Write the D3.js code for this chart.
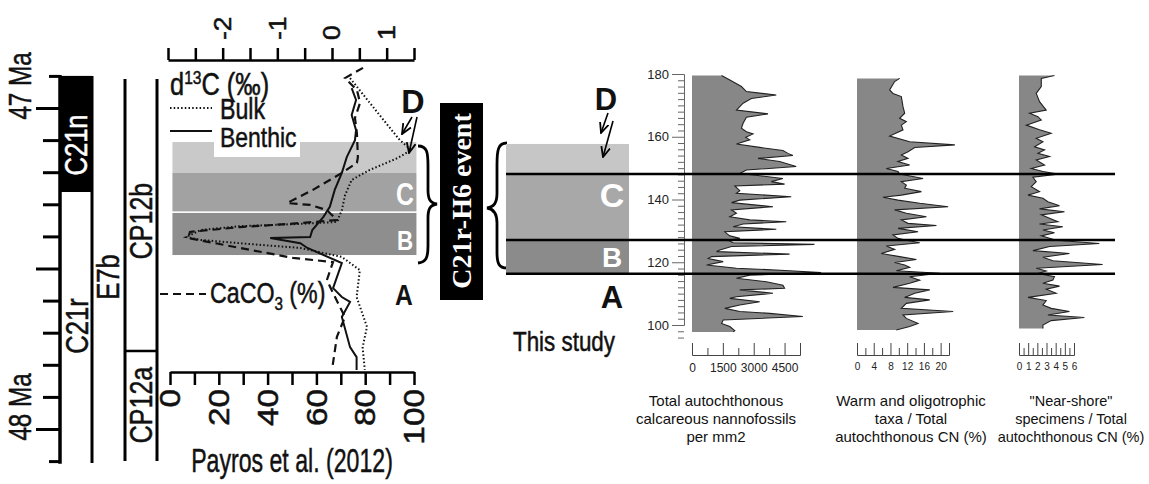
<!DOCTYPE html>
<html>
<head>
<meta charset="utf-8">
<script src="https://cdn.jsdelivr.net/npm/d3@7"></script>
<style>
  html, body { margin: 0; padding: 0; background: #fff; }
  svg { display: block; }
</style>
</head>
<body>
<svg id="chart" width="1149" height="484"></svg>
<script>
// ---------- data ----------
// polarity chrons and zones (age, Ma)
const chronNames = ["C21n", "C21r"];
const chronTops = [46.9, 47.262];
const chronBases = [47.262, 48.106];
const chronNormal = [true, false];
const nannoZones = ["CP12b", "CP12a"];
const nannoBounds = [46.91, 47.757, 48.1];
const ageTicks = d3.range(469, 482).map(d => d / 10);

// Payros et al. (2012) curves, age in Ma
const bulkAge = [46.907,47.022,47.100,47.131,47.156,47.193,47.224,47.271,47.318,47.355,47.361,47.368,47.380,47.402,47.411,47.424,47.436,47.464,47.505,47.589,47.682,47.745,47.816];
const bulkD13C = [0.33,0.87,1.24,1.45,1.20,0.69,0.36,0.24,0.18,0.09,-0.58,-1.67,-2.40,-2.67,-2.40,-1.49,-0.58,0.18,0.51,0.45,0.64,0.56,0.60];
const benthicAge = [46.938,46.975,47.022,47.069,47.100,47.153,47.202,47.255,47.308,47.340,47.380,47.402,47.405,47.421,47.436,47.483,47.561,47.589,47.604,47.651,47.745,47.776,47.816];
const benthicD13C = [0.36,0.44,0.36,0.44,0.42,0.27,0.18,0.05,-0.04,-0.16,-0.36,-0.40,-1.13,-0.58,-0.45,0.18,0.02,0.18,0.33,0.18,0.33,0.45,0.45];
const caco3Age = [46.875,46.907,46.944,46.984,47.031,47.078,47.153,47.171,47.202,47.255,47.296,47.302,47.318,47.349,47.361,47.371,47.386,47.405,47.436,47.467,47.480,47.536,47.576,47.651,47.713,47.816];
const caco3Pct = [79.1,71.7,76.6,77.9,75.8,76.6,77.0,76.6,70.5,58.6,48.0,57.4,64.3,68.4,49.2,28.7,8.2,7.4,28.7,50.4,66.8,64.3,66.8,71.7,68.4,66.4];
const payrosBandTop = [47.106, 47.202, 47.327];
const payrosBandBase = [47.202, 47.322, 47.458];

// This study: event intervals (section height)
const studyBandTop = [157.7, 148.1, 127.1];
const studyBandBase = [148.1, 127.1, 116.3];
const studyLines = [148.1, 127.1, 116.3];

// Total autochthonous calcareous nannofossils per mm2
const depth1 = [179.5,178.1,176.0,174.4,173.3,172.2,170.7,168.5,167.3,166.2,164.3,162.7,161.6,160.9,159.8,159.0,157.7,156.6,155.6,154.7,154.0,153.1,152.1,150.5,149.4,148.3,146.7,145.7,144.9,144.3,142.8,142.0,140.9,139.8,139.0,137.7,136.7,135.6,134.5,133.5,132.9,132.2,131.3,130.5,129.7,129.2,128.4,127.6,127.0,126.2,125.7,125.0,123.9,123.4,122.6,121.8,121.2,120.2,119.1,118.1,117.3,116.7,115.9,114.9,113.8,112.7,111.7,111.2,110.1,109.0,108.5,107.4,106.4,105.3,104.3,103.7,102.7,101.6,100.5,99.5,98.2,97.8];
const total1 = [1436,1839,2403,2645,4097,2887,2484,2161,3694,2645,2484,2403,2645,2968,2613,2807,2161,3291,4420,4662,4904,3210,4258,5065,2645,2323,4420,3855,4500,2081,2323,2161,4823,2323,1919,3936,1919,2161,1839,2807,4581,2484,2000,4097,1597,1678,1839,2323,1758,2000,5952,1919,1355,1194,4742,952,790,1516,710,2161,4742,6275,2807,2161,3613,4420,4500,2323,3936,2161,1839,3291,2323,1597,2323,3774,5387,1516,1436,1839,2081,2000];

// Warm and oligotrophic taxa (%)
const depth2 = [178.6,177.6,174.9,173.8,172.8,169.6,167.5,165.9,164.8,163.7,162.2,160.2,158.4,157.4,156.6,155.2,154.2,153.1,152.1,151.0,149.9,148.9,148.1,146.7,145.7,144.6,143.6,142.5,141.4,140.7,139.8,138.8,137.7,136.7,135.6,134.5,133.5,132.4,131.7,130.8,129.7,128.7,127.6,127.0,126.2,125.2,124.1,122.8,121.8,120.9,119.9,119.1,118.4,117.3,116.5,115.4,114.3,113.3,112.0,111.2,110.1,108.8,108.0,106.9,105.3,104.3,103.2,102.1,100.5,99.5,98.4];
const warm2 = [10.2,9.0,7.8,8.6,10.6,11.0,11.4,10.2,11.8,10.6,11.0,7.8,12.6,23.4,13.8,12.2,10.6,12.2,9.8,12.6,7.0,9.8,10.2,15.8,10.6,11.8,11.4,15.4,10.6,6.2,9.8,15.0,21.8,9.0,11.8,16.6,10.6,12.2,19.0,9.8,14.6,8.6,9.8,11.8,15.0,7.0,9.0,5.8,10.2,14.2,9.0,11.4,12.6,9.4,19.8,12.6,15.0,12.6,8.6,17.4,13.8,11.4,17.4,11.8,10.6,23.0,11.0,11.8,14.6,12.6,9.4];

// "Near-shore" specimens (%)
const depth3 = [179.5,178.6,176.0,173.8,171.2,168.5,167.5,166.4,165.3,163.7,162.2,161.1,159.5,158.4,156.8,155.8,154.7,153.7,152.6,151.0,149.9,148.9,148.1,147.1,145.7,144.1,142.5,141.4,140.4,139.3,138.0,137.0,136.1,135.1,134.0,132.9,132.2,131.3,130.3,129.4,128.4,127.0,126.0,125.0,123.7,122.8,121.6,120.5,119.3,118.1,117.2,116.4,115.4,114.3,113.3,112.4,111.4,110.1,108.8,107.8,106.4,105.3,104.3,103.2,102.4,101.4,100.0,98.9];
const near3 = [3.87,2.43,2.43,1.88,2.24,2.97,1.16,2.06,2.43,0.80,2.24,3.51,1.88,2.61,1.70,2.79,2.06,3.33,1.88,2.79,1.34,2.61,4.24,1.52,1.88,1.34,2.24,0.98,2.61,3.15,4.42,2.24,4.96,2.43,3.33,4.24,2.24,4.78,2.61,3.87,2.43,4.05,8.76,3.33,1.52,5.50,2.61,3.69,9.12,1.88,2.97,2.06,3.87,3.69,2.61,4.42,2.97,4.05,0.98,2.97,2.61,3.51,5.50,3.15,7.13,3.51,2.61,2.61];

const panelTitles = [
  ["Total autochthonous", "calcareous nannofossils", "per mm2"],
  ["Warm and oligotrophic", "taxa / Total", "autochthonous CN (%)"],
  ["\"Near-shore\"", "specimens / Total", "autochthonous CN (%)"]
];

const SANS = "'Liberation Sans', Arial, Helvetica, sans-serif";
const SERIF = "'Liberation Serif', 'Times New Roman', serif";

document.addEventListener('DOMContentLoaded', init);

function init() {
  const svg = d3.select("#chart");

  // arrow head
  svg.append("defs").append("marker")
    .attr("id", "arr").attr("viewBox", "0 0 10 10")
    .attr("refX", 9).attr("refY", 5)
    .attr("markerWidth", 7).attr("markerHeight", 7)
    .attr("orient", "auto")
    .append("path").attr("d", "M0,1 L9,5 L0,9")
    .attr("fill", "none").attr("stroke", "#000").attr("stroke-width", 1.6);

  // scales
  const yAge = d3.scaleLinear().domain([47, 48]).range([108, 429]);
  const xD13C = d3.scaleLinear().domain([-3, 1.5]).range([168, 414]);
  const xCaco3 = d3.scaleLinear().domain([0, 100]).range([170, 414]);
  const yDepth = d3.scaleLinear().domain([100, 180]).range([325, 74]);
  const xTotal = d3.scaleLinear().domain([0, 5250]).range([692, 800]);
  const xWarm = d3.scaleLinear().domain([0, 22]).range([857, 949]);
  const xNear = d3.scaleLinear().domain([0, 6]).range([1019, 1074]);

  // ---------- time scale column ----------
  const gT = svg.append("g");
  chronNames.forEach((name, i) => {
    gT.append("rect")
      .attr("x", 60).attr("width", 32)
      .attr("y", yAge(chronTops[i]))
      .attr("height", yAge(chronBases[i]) - yAge(chronTops[i]))
      .attr("fill", chronNormal[i] ? "#000" : "#fff");
  });
  gT.append("line").attr("x1", 92).attr("x2", 92)
    .attr("y1", yAge(46.9)).attr("y2", yAge(48.106))
    .attr("stroke", "#000").attr("stroke-width", 3);

  const ageAxis = gT.append("g").attr("transform", "translate(60,0)")
    .call(d3.axisLeft(yAge).tickValues(ageTicks).tickFormat("").tickSizeOuter(0).tickSize(17));
  ageAxis.select(".domain").remove();
  ageAxis.selectAll(".tick line")
    .attr("x2", d => {
      const r = Math.round(d * 10);
      if (r === 470 || r === 475 || r === 480) return -24;
      if (r === 469 || r === 481) return -11;
      return -17;
    })
    .attr("stroke", "#000").attr("stroke-width", 3);
  gT.append("line").attr("x1", 60).attr("x2", 60)
    .attr("y1", yAge(46.897)).attr("y2", yAge(48.108))
    .attr("stroke", "#000").attr("stroke-width", 3.5);

  // zone columns
  [125, 157].forEach(x => {
    gT.append("line").attr("x1", x).attr("x2", x)
      .attr("y1", yAge(nannoBounds[0])).attr("y2", yAge(nannoBounds[2]))
      .attr("stroke", "#000").attr("stroke-width", 3);
  });
  gT.append("line").attr("x1", 125).attr("x2", 157)
    .attr("y1", yAge(nannoBounds[1])).attr("y2", yAge(nannoBounds[1]))
    .attr("stroke", "#000").attr("stroke-width", 2.5);

  const heavy = {stroke: 0.5};
  txt(gT, "47 Ma", 20, 86, {rot: -90, size: 31, sx: 0.78, dy: ".35em", ...heavy});
  txt(gT, "48 Ma", 20, 407, {rot: -90, size: 31, sx: 0.78, dy: ".35em", ...heavy});
  txt(gT, chronNames[0], 76, 145, {rot: -90, size: 32, sx: 0.8, dy: ".35em", fill: "#fff", stroke: 0.5, strokeColor: "#fff"});
  txt(gT, chronNames[1], 77, 326, {rot: -90, size: 32, sx: 0.8, dy: ".35em", ...heavy});
  txt(gT, "E7b", 108, 277, {rot: -90, size: 32, sx: 0.8, dy: ".35em", ...heavy});
  txt(gT, nannoZones[0], 141, 221, {rot: -90, size: 32, sx: 0.78, dy: ".35em", ...heavy});
  txt(gT, nannoZones[1], 141, 405, {rot: -90, size: 32, sx: 0.78, dy: ".35em", ...heavy});

  // ---------- Payros et al. panel ----------
  const gP = svg.append("g");
  const pColors = ["#c9c9c9", "#a2a2a2", "#8e8e8e"];
  payrosBandTop.forEach((t, i) => {
    gP.append("rect")
      .attr("x", xCaco3(1)).attr("width", xCaco3(101) - xCaco3(1))
      .attr("y", yAge(t)).attr("height", yAge(payrosBandBase[i]) - yAge(t))
      .attr("fill", pColors[i]);
  });
  // white patch behind legend
  gP.append("rect").attr("x", 214).attr("y", 141).attr("width", 86).attr("height", 16).attr("fill", "#fff");

  const lineAge = (xs) => d3.line().x(d => xs(d[1])).y(d => yAge(d[0]));
  gP.append("path").datum(d3.zip(caco3Age, caco3Pct))
    .attr("d", lineAge(xCaco3)).attr("fill", "none")
    .attr("stroke", "#111").attr("stroke-width", 2.2).attr("stroke-dasharray", "8,5");
  gP.append("path").datum(d3.zip(bulkAge, bulkD13C))
    .attr("d", lineAge(xD13C)).attr("fill", "none")
    .attr("stroke", "#111").attr("stroke-width", 2).attr("stroke-dasharray", "1.5,2.2");
  gP.append("path").datum(d3.zip(benthicAge, benthicD13C))
    .attr("d", lineAge(xD13C)).attr("fill", "none")
    .attr("stroke", "#111").attr("stroke-width", 2);

  // top axis d13C
  const topAx = gP.append("g").attr("transform", "translate(0,60)")
    .call(d3.axisTop(xD13C).tickValues(d3.range(-3, 1.51, 0.5)).tickFormat("").tickSize(12).tickSizeOuter(0));
  topAx.selectAll("path, line").attr("stroke", "#000").attr("stroke-width", 2.5);
  [-2, -1, 0, 1].forEach(v => {
    txt(gP, String(v), xD13C(v), 40, {rot: -90, size: 24, sx: 1.1, dy: ".35em", anchor: "start", ...heavy});
  });

  // bottom axis CaCO3
  const botAx = gP.append("g").attr("transform", "translate(0,372)")
    .call(d3.axisBottom(xCaco3).tickValues(d3.range(0, 101, 10)).tickFormat("").tickSize(13).tickSizeOuter(0));
  botAx.selectAll("path, line").attr("stroke", "#000").attr("stroke-width", 2.5);
  d3.range(0, 101, 20).forEach(v => {
    txt(gP, String(v), xCaco3(v), 389, {rot: -90, size: 29, sx: 1.15, dy: ".35em", anchor: "end", ...heavy});
  });

  // legend
  const d13 = txt(gP, null, 170, 95, {anchor: "start", size: 31, sx: 0.82, ...heavy});
  d13.append("tspan").text("d");
  d13.append("tspan").attr("dy", -11).style("font-size", "19px").text("13");
  d13.append("tspan").attr("dy", 11).text("C (‰)");
  gP.append("line").attr("x1", 170).attr("x2", 212).attr("y1", 108).attr("y2", 108)
    .attr("stroke", "#111").attr("stroke-width", 2).attr("stroke-dasharray", "1.5,2.2");
  txt(gP, "Bulk", 220, 119, {anchor: "start", size: 29, sx: 0.8, ...heavy});
  gP.append("line").attr("x1", 170).attr("x2", 212).attr("y1", 131).attr("y2", 131)
    .attr("stroke", "#111").attr("stroke-width", 2);
  txt(gP, "Benthic", 220, 147, {anchor: "start", size: 28, sx: 0.82, ...heavy});
  gP.append("line").attr("x1", 160).attr("x2", 206).attr("y1", 294).attr("y2", 294)
    .attr("stroke", "#111").attr("stroke-width", 2.2).attr("stroke-dasharray", "8,5");
  const cac = txt(gP, null, 210, 303, {anchor: "start", size: 29, sx: 0.8, ...heavy});
  cac.append("tspan").text("CaCO");
  cac.append("tspan").attr("dy", 7).style("font-size", "19px").text("3");
  cac.append("tspan").attr("dy", -7).text(" (%)");

  txt(gP, "Payros et al. (2012)", 292, 472, {size: 34, sx: 0.68, ...heavy});

  // band letters
  txt(gP, "D", 413, 113, {size: 34, sx: 0.95, bold: true});
  txt(gP, "C", 405, 205, {size: 31, sx: 0.8, bold: true, fill: "#fff"});
  txt(gP, "B", 405, 250, {size: 28, sx: 0.8, bold: true, fill: "#fff"});
  txt(gP, "A", 404, 305, {size: 29, sx: 0.85, bold: true});
  arrow(gP, 412, 117, 402, 134);
  arrow(gP, 417, 117, 409, 153);

  // right brace
  gP.append("path")
    .attr("d", "M418,146 C427,146 428,152 428,166 L428,190 C428,199 430,203 437,204 C430,205 428,209 428,218 L428,246 C428,258 426,262 418,263")
    .attr("fill", "none").attr("stroke", "#000").attr("stroke-width", 2.8);

  // ---------- event label ----------
  svg.append("rect").attr("x", 440).attr("y", 103).attr("width", 43).attr("height", 197).attr("fill", "#000");
  txt(svg, "C21r-H6 event", 462, 201, {rot: -90, size: 28, bold: true, family: SERIF, fill: "#fff", dy: ".33em"});

  svg.append("path")
    .attr("d", "M507,143 C498,143 497,150 497,165 L497,193 C497,203 494,207 487,208 C494,209 497,214 497,223 L497,252 C497,264 499,268 507,268")
    .attr("fill", "none").attr("stroke", "#000").attr("stroke-width", 2.8);

  // ---------- This study box ----------
  const gS = svg.append("g");
  const sColors = ["#c6c6c6", "#a8a8a8", "#8b8b8b"];
  studyBandTop.forEach((t, i) => {
    gS.append("rect")
      .attr("x", 506).attr("width", 123)
      .attr("y", yDepth(t)).attr("height", yDepth(studyBandBase[i]) - yDepth(t))
      .attr("fill", sColors[i]);
  });
  txt(gS, "D", 606, 110, {size: 31, bold: true});
  txt(gS, "C", 612, 207, {size: 34, bold: true, fill: "#fff"});
  txt(gS, "B", 612, 267, {size: 28, bold: true, fill: "#fff"});
  txt(gS, "A", 612, 308, {size: 31, bold: true});
  arrow(gS, 608, 113, 601, 133);
  arrow(gS, 613, 121, 603, 157);
  txt(gS, "This study", 564, 351, {size: 28, sx: 0.8, ...heavy});

  // ---------- right panels ----------
  const panels = [
    {x: xTotal, depth: depth1, vals: total1, ticks: d3.range(0, 5251, 750), major: d => d % 1500 === 0, fs: 12},
    {x: xWarm, depth: depth2, vals: warm2, ticks: d3.range(0, 23, 2), major: d => d % 4 === 0, fs: 10},
    {x: xNear, depth: depth3, vals: near3, ticks: d3.range(0, 6.01, 0.5), major: d => d % 1 === 0, fs: 10}
  ];
  const titleX = [716, 911, 1071];

  panels.forEach((p, i) => {
    const g = svg.append("g");
    const pts = d3.zip(p.depth, p.vals);
    g.append("path").datum(pts)
      .attr("d", d3.area().y(d => yDepth(d[0])).x0(p.x(0)).x1(d => p.x(d[1])))
      .attr("fill", "#878787");
    g.append("path").datum(pts)
      .attr("d", d3.line().y(d => yDepth(d[0])).x(d => p.x(d[1])))
      .attr("fill", "none").attr("stroke", "#222").attr("stroke-width", 1.1);

    const ax = g.append("g").attr("transform", "translate(0,355)")
      .call(d3.axisBottom(p.x).tickValues(p.ticks).tickSizeOuter(0).tickSize(-12).tickPadding(8)
        .tickFormat(d => p.major(d) ? d : ""));
    ax.select(".domain").attr("stroke", "#444");
    ax.selectAll(".tick line").attr("y2", d => p.major(d) ? -12 : -7).attr("stroke", "#444");
    ax.selectAll(".tick text").style("font-family", SANS).style("font-size", p.fs + "px").attr("fill", "#222");

    panelTitles[i].forEach((s, k) => {
      txt(g, s, titleX[i], 406 + k * 18, {size: i === 2 ? 14.5 : 15});
    });
  });

  // depth axis of first panel
  const yAx = svg.append("g").attr("transform", "translate(684,0)")
    .call(d3.axisLeft(yDepth).tickValues(d3.range(96, 181, 2)).tickSizeOuter(0).tickSize(6).tickPadding(9)
      .tickFormat(d => d % 20 === 0 ? d : ""));
  yAx.select(".domain").attr("stroke", "#666");
  yAx.selectAll(".tick line").attr("x2", d => d % 20 === 0 ? -12 : -6).attr("stroke", "#666");
  yAx.selectAll(".tick text").style("font-family", SANS).style("font-size", "13px").attr("fill", "#222");

  // boundary lines across the study panels
  studyLines.forEach(v => {
    svg.append("line").attr("x1", 506).attr("x2", 1115)
      .attr("y1", yDepth(v)).attr("y2", yDepth(v))
      .attr("stroke", "#000").attr("stroke-width", 2.5);
  });
}

function txt(g, str, x, y, o = {}) {
  const t = g.append("text")
    .attr("transform", `translate(${x},${y}) rotate(${o.rot || 0}) scale(${o.sx || 1},1)`)
    .attr("text-anchor", o.anchor || "middle")
    .attr("dy", o.dy || null)
    .style("font-family", o.family || SANS)
    .style("font-size", (o.size || 15) + "px")
    .style("font-weight", o.bold ? "bold" : "normal")
    .style("fill", o.fill || "#111");
  if (o.stroke) t.style("stroke", o.strokeColor || "#111").style("stroke-width", o.stroke);
  if (str !== null) t.text(str);
  return t;
}

function arrow(g, x1, y1, x2, y2) {
  g.append("line").attr("x1", x1).attr("y1", y1).attr("x2", x2).attr("y2", y2)
    .attr("stroke", "#000").attr("stroke-width", 1.6).attr("marker-end", "url(#arr)");
}
</script>
</body>
</html>
